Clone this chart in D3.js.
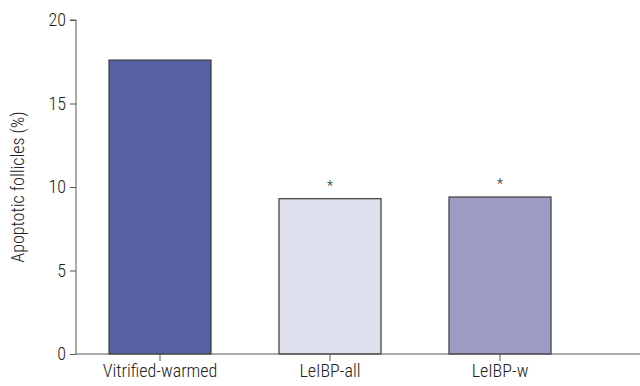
<!DOCTYPE html>
<html><head><meta charset="utf-8">
<script src="https://cdn.jsdelivr.net/npm/d3@7"></script>
<style>body{margin:0;background:#fff}svg{display:block}text{font-family:"Roboto Condensed","Liberation Sans Narrow","Roboto",sans-serif;font-weight:300;fill:#222}</style>
</head><body>
<svg id="c" width="640" height="386"></svg>
<script>
const categories = ["Vitrified-warmed", "LeIBP-all", "LeIBP-w"];
const values = [17.6, 9.3, 9.4];
const significant = [false, true, true];
const colors = ["#5661a3", "#dfe1ee", "#9d9cc6"];
const yTicks = [0, 5, 10, 15, 20];

const svg = d3.select("#c");
const y = d3.scaleLinear().domain([0, 20]).range([354, 20]);
const x = d3.scaleBand().domain(categories).range([75, 585]).paddingInner(0.4).paddingOuter(0.2);

svg.selectAll("rect.bar").data(categories).enter().append("rect")
  .attr("x", d => x(d))
  .attr("y", (d, i) => y(values[i]))
  .attr("width", x.bandwidth())
  .attr("height", (d, i) => y(0) - y(values[i]))
  .attr("fill", (d, i) => colors[i])
  .attr("stroke", "#3a3a3a").attr("stroke-width", 1.2);

svg.selectAll("text.star").data(categories.filter((d, i) => significant[i])).enter().append("text")
  .attr("x", d => x(d) + x.bandwidth() / 2)
  .attr("y", d => y(values[categories.indexOf(d)]) - 8)
  .attr("text-anchor", "middle").attr("font-size", 14).attr("fill", "#444").text("*");

const yAxis = svg.append("g").attr("transform", "translate(76,0)")
  .call(d3.axisLeft(y).tickValues(yTicks).tickSize(6).tickPadding(4));
yAxis.select(".domain").attr("stroke", "#555").attr("d", `M-6,${y(20)}H0V${y(0)}`);
yAxis.selectAll(".tick line").attr("stroke", "#555");
yAxis.selectAll(".tick text").attr("font-size", 18).attr("fill", "#222");

const xAxis = svg.append("g").attr("transform", `translate(0,${y(0)})`)
  .call(d3.axisBottom(x).tickSize(7).tickPadding(3));
xAxis.select(".domain").attr("stroke", "#555").attr("d", "M76,0H640");
xAxis.selectAll(".tick line").attr("stroke", "#555");
xAxis.selectAll(".tick text").attr("font-size", 18).attr("fill", "#222");

svg.append("text").attr("transform", `translate(24,${(y(0) + y(20)) / 2}) rotate(-90)`)
  .attr("text-anchor", "middle").attr("font-size", 18).text("Apoptotic follicles (%)");
</script>
</body></html>
